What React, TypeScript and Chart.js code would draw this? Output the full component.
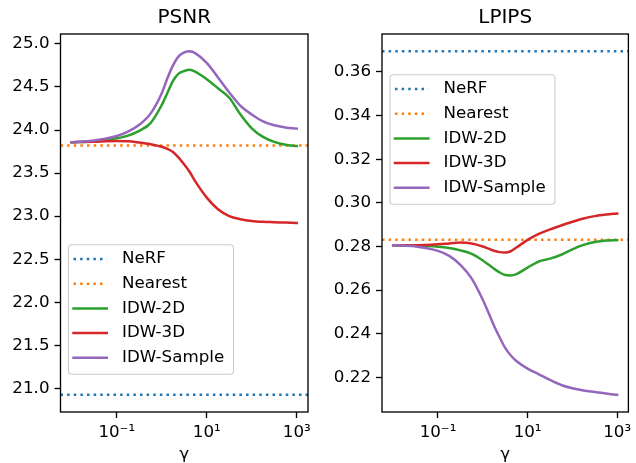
import React, { useEffect, useRef } from 'react';
import { Chart, registerables } from 'chart.js';

Chart.register(...registerables);

// ---- data ----
const gamma = [0.01, 0.03162, 0.1, 0.1778, 0.3162, 0.5623, 1, 1.334, 1.778, 2.371, 3.162, 4.217, 5.623, 10, 17.78, 31.62, 56.23, 100, 177.8, 316.2, 562.3, 1000];

const psnrNeRF = 20.926;
const psnrNearest = 23.82;
const psnrIDW2D = [23.857, 23.87, 23.905, 23.935, 23.99, 24.08, 24.29, 24.43, 24.57, 24.655, 24.685, 24.70, 24.675, 24.59, 24.485, 24.375, 24.18, 24.02, 23.92, 23.862, 23.828, 23.814];
const psnrIDW3D = [23.857, 23.865, 23.872, 23.87, 23.855, 23.835, 23.805, 23.78, 23.745, 23.68, 23.60, 23.51, 23.40, 23.215, 23.08, 23.00, 22.965, 22.945, 22.935, 22.93, 22.925, 22.92];
const psnrIDWSample = [23.857, 23.877, 23.93, 23.98, 24.06, 24.19, 24.427, 24.60, 24.75, 24.855, 24.90, 24.915, 24.89, 24.78, 24.61, 24.435, 24.28, 24.18, 24.10, 24.055, 24.03, 24.016];

const lpipsNeRF = 0.3695;
const lpipsNearest = 0.2831;
const lpipsIDW2D = [0.2805, 0.2804, 0.2799, 0.2793, 0.2782, 0.2766, 0.2736, 0.2717, 0.2698, 0.2681, 0.2669, 0.2667, 0.2673, 0.2703, 0.2731, 0.2744, 0.2762, 0.2787, 0.2807, 0.2820, 0.2827, 0.2829];
const lpipsIDW3D = [0.2806, 0.2806, 0.2810, 0.2814, 0.2818, 0.2814, 0.2800, 0.2790, 0.2780, 0.2774, 0.2772, 0.2778, 0.2795, 0.2830, 0.2858, 0.2878, 0.2896, 0.2913, 0.2928, 0.2939, 0.2946, 0.2951];
const lpipsIDWSample = [0.2805, 0.2800, 0.2780, 0.2757, 0.2716, 0.2654, 0.2556, 0.2497, 0.2437, 0.2384, 0.2335, 0.2300, 0.2275, 0.2240, 0.2214, 0.2188, 0.2165, 0.2150, 0.2140, 0.2133, 0.2126, 0.2120];

const seriesLabels = ['NeRF', 'Nearest', 'IDW-2D', 'IDW-3D', 'IDW-Sample'];
const gammaTicks = [0.1, 10, 1000];
const gammaTickLabels = ['10⁻¹', '10¹', '10³'];
const psnrTicks = [21.0, 21.5, 22.0, 22.5, 23.0, 23.5, 24.0, 24.5, 25.0];
const lpipsTicks = [0.22, 0.24, 0.26, 0.28, 0.30, 0.32, 0.34, 0.36];

// ---- styles ----
const COLORS = ['#1f77b4', '#ff7f0e', '#2ca02c', '#d62728', '#9467bd'];
const FONT = 'DejaVu Sans';
const LW = 2.5;
const DOT = [2.5, 4.125];
const X_MIN = Math.pow(10, -2.25);
const X_MAX = Math.pow(10, 3.25);

const framePlugin = {
  id: 'frame',
  afterDraw(chart: any) {
    const { ctx, chartArea: a } = chart;
    ctx.save();
    ctx.strokeStyle = '#000';
    ctx.lineWidth = 1.33;
    ctx.strokeRect(a.left, a.top, a.right - a.left, a.bottom - a.top);
    ctx.restore();
  },
};

const boxLegendPlugin = {
  id: 'boxLegend',
  afterDraw(chart: any, _args: any, opts: any) {
    const { ctx, chartArea } = chart;
    const x0 = chartArea.left + opts.dx;
    const y0 = chartArea.top + opts.dy;
    ctx.save();
    ctx.beginPath();
    ctx.roundRect(x0, y0, opts.w, opts.h, 3.3);
    ctx.fillStyle = 'rgba(255,255,255,0.8)';
    ctx.fill();
    ctx.lineWidth = 1.1;
    ctx.strokeStyle = '#cccccc';
    ctx.stroke();
    chart.data.datasets.forEach((ds: any, i: number) => {
      const y = y0 + opts.firstRow + i * opts.rowGap;
      ctx.beginPath();
      const dashed = ds.borderDash && ds.borderDash.length > 0;
      ctx.setLineDash(dashed ? ds.borderDash : []);
      ctx.lineCap = dashed ? 'butt' : 'square';
      ctx.lineWidth = ds.borderWidth;
      ctx.strokeStyle = ds.borderColor;
      ctx.moveTo(x0 + opts.handleX, y);
      ctx.lineTo(x0 + opts.handleX + opts.handleLen, y);
      ctx.stroke();
      ctx.setLineDash([]);
      ctx.fillStyle = '#000';
      ctx.font = `16.7px "${FONT}"`;
      ctx.textBaseline = 'middle';
      ctx.textAlign = 'left';
      ctx.fillText(ds.label, x0 + opts.textX, y);
    });
    ctx.restore();
  },
};

function makeConfig(
  title: string,
  nerf: number,
  nearest: number,
  idw2d: number[],
  idw3d: number[],
  idwSample: number[],
  yTicks: number[],
  decimals: number,
  yAxisWidth: number,
  padRight: number,
  legendDy: number,
): any {
  const curve = (arr: number[]) => gamma.map((g, i) => ({ x: g, y: arr[i] }));
  const hline = (v: number) => [{ x: X_MIN, y: v }, { x: X_MAX, y: v }];
  const all = [nerf, nearest, ...idw2d, ...idw3d, ...idwSample];
  const lo = Math.min(...all);
  const hi = Math.max(...all);
  const m = (hi - lo) * 0.05;
  const seriesData = [hline(nerf), hline(nearest), curve(idw2d), curve(idw3d), curve(idwSample)];
  const datasets = seriesData.map((d, i) => ({
    label: seriesLabels[i],
    data: d,
    borderColor: COLORS[i],
    backgroundColor: COLORS[i],
    borderWidth: LW,
    borderDash: i < 2 ? DOT : [],
    borderCapStyle: i < 2 ? 'butt' : 'square',
    pointRadius: 0,
    pointHoverRadius: 0,
    fill: false,
    cubicInterpolationMode: 'monotone',
    order: -i,
  }));
  return {
    type: 'line',
    data: { datasets },
    options: {
      animation: false,
      responsive: false,
      devicePixelRatio: 1,
      events: [],
      layout: { padding: { left: 0, right: padRight, top: 0, bottom: 0 } },
      plugins: {
        legend: { display: false },
        tooltip: { enabled: false },
        title: {
          display: true,
          text: title,
          fullSize: false,
          color: '#000',
          font: { family: FONT, size: 20, weight: 'normal', lineHeight: 1.2 },
          padding: { top: 6, bottom: 4 },
        },
        boxLegend: {
          dx: 8.0,
          dy: legendDy,
          w: 165,
          h: 129.6,
          firstRow: 14.3,
          rowGap: 24.7,
          handleX: 5,
          handleLen: 33.3,
          textX: 53.5,
        },
      },
      scales: {
        x: {
          type: 'logarithmic',
          min: X_MIN,
          max: X_MAX,
          afterBuildTicks: (s: any) => {
            s.ticks = gammaTicks.map((v) => ({ value: v }));
          },
          afterFit: (s: any) => {
            s.height = 51;
          },
          ticks: {
            autoSkip: false,
            maxRotation: 0,
            minRotation: 0,
            padding: 4.5,
            color: '#000',
            font: { family: FONT, size: 16.7 },
            callback: (_v: any, idx: number) => gammaTickLabels[idx],
          },
          grid: {
            display: true,
            drawOnChartArea: false,
            drawTicks: true,
            tickLength: 6,
            tickWidth: 1.33,
            tickColor: '#000',
          },
          border: { display: false },
          title: {
            display: true,
            text: 'γ',
            color: '#000',
            font: { family: FONT, size: 16.7, lineHeight: 1 },
            padding: { top: 0, bottom: 0 },
          },
        },
        y: {
          type: 'linear',
          min: lo - m,
          max: hi + m,
          afterBuildTicks: (s: any) => {
            s.ticks = yTicks.map((v) => ({ value: v }));
          },
          afterFit: (s: any) => {
            s.width = yAxisWidth;
          },
          ticks: {
            autoSkip: false,
            padding: 5,
            color: '#000',
            font: { family: FONT, size: 16.7 },
            callback: (v: any) => Number(v).toFixed(decimals),
          },
          grid: {
            display: true,
            drawOnChartArea: false,
            drawTicks: true,
            tickLength: 6,
            tickWidth: 1.33,
            tickColor: '#000',
          },
          border: { display: false },
        },
      },
    },
    plugins: [framePlugin, boxLegendPlugin],
  };
}

export default function App() {
  const leftRef = useRef<HTMLCanvasElement | null>(null);
  const rightRef = useRef<HTMLCanvasElement | null>(null);

  useEffect(() => {
    const charts: Chart[] = [];
    if (leftRef.current) {
      charts.push(
        new Chart(
          leftRef.current,
          makeConfig('PSNR', psnrNeRF, psnrNearest, psnrIDW2D, psnrIDW3D, psnrIDWSample, psnrTicks, 1, 60.5, 10, 210.7),
        ),
      );
    }
    if (rightRef.current) {
      charts.push(
        new Chart(
          rightRef.current,
          makeConfig('LPIPS', lpipsNeRF, lpipsNearest, lpipsIDW2D, lpipsIDW3D, lpipsIDWSample, lpipsTicks, 2, 64, 5.3, 40.7),
        ),
      );
    }
    return () => charts.forEach((c) => c.destroy());
  }, []);

  return (
    <div style={{ position: 'absolute', left: 0, top: 0, width: 636, height: 463, background: '#fff', overflow: 'hidden' }}>
      <canvas ref={leftRef} width={318} height={463} style={{ position: 'absolute', left: 0, top: 0, width: 318, height: 463 }} />
      <canvas ref={rightRef} width={318} height={463} style={{ position: 'absolute', left: 318, top: 0, width: 318, height: 463 }} />
    </div>
  );
}
